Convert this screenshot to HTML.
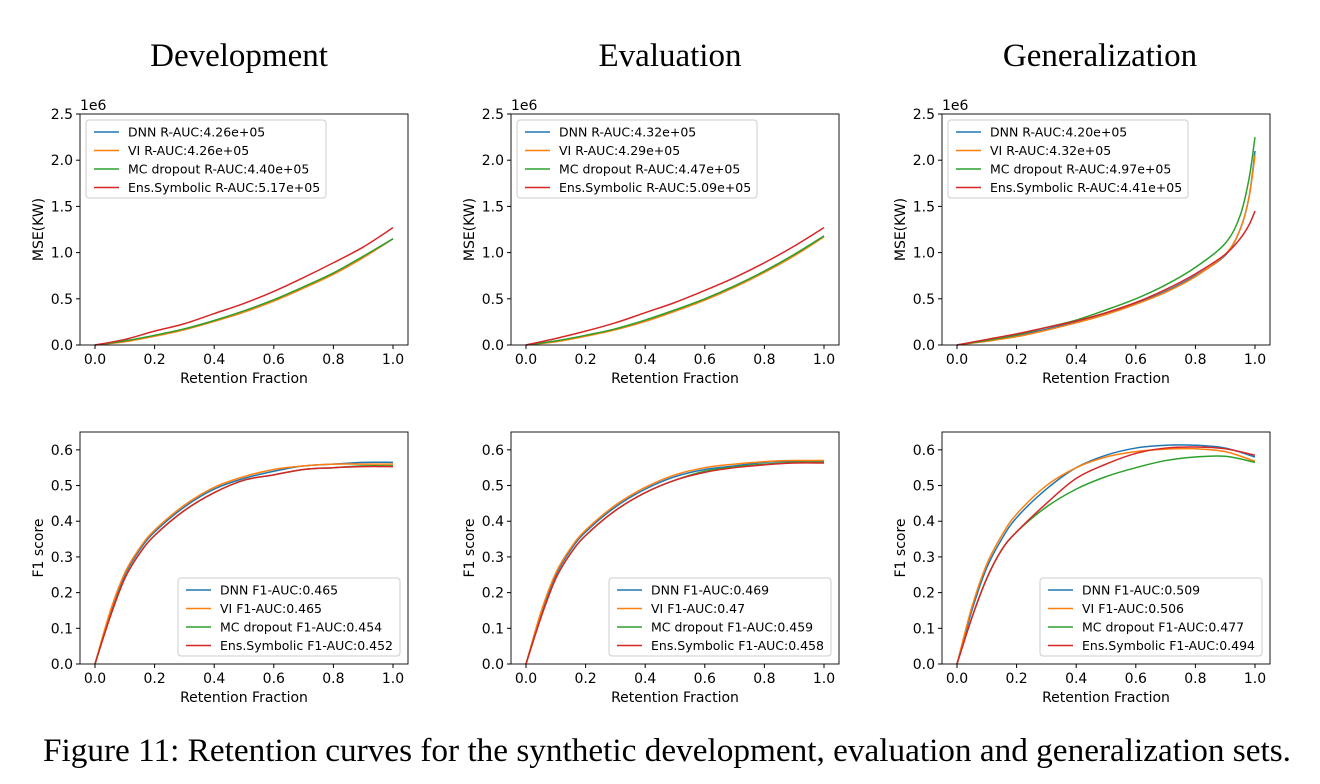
<!DOCTYPE html>
<html><head><meta charset="utf-8"><style>
body{margin:0;background:#fff;width:1320px;height:784px;overflow:hidden}
svg{display:block}
</style></head><body>
<svg id="fig" width="1320" height="784" xmlns="http://www.w3.org/2000/svg">
<text x="239" y="66" font-family="Liberation Serif, serif" font-size="33" text-anchor="middle">Development</text>
<text x="670" y="66" font-family="Liberation Serif, serif" font-size="33" text-anchor="middle">Evaluation</text>
<text x="1100" y="66" font-family="Liberation Serif, serif" font-size="33" text-anchor="middle">Generalization</text>
<text x="667" y="761" font-family="Liberation Serif, serif" font-size="33" text-anchor="middle" textLength="1248" lengthAdjust="spacingAndGlyphs">Figure 11: Retention curves for the synthetic development, evaluation and generalization sets.</text>
</svg>
<script>
const colors=['#1f77b4','#ff7f0e','#2ca02c','#d62728'];
const seriesNames=['DNN','VI','MC dropout','Ens.Symbolic'];
const xTicks=[0,0.2,0.4,0.6,0.8,1.0];
const mseTicks=[0,0.5,1.0,1.5,2.0,2.5];
const f1Ticks=[0,0.1,0.2,0.3,0.4,0.5,0.6];
const mseLabels=[['4.26e+05','4.26e+05','4.40e+05','5.17e+05'],['4.32e+05','4.29e+05','4.47e+05','5.09e+05'],['4.20e+05','4.32e+05','4.97e+05','4.41e+05']];
const f1Labels=[['0.465','0.465','0.454','0.452'],['0.469','0.47','0.459','0.458'],['0.509','0.506','0.477','0.494']];
const xMse=[0,0.1,0.2,0.3,0.4,0.5,0.6,0.7,0.8,0.9,1.0];
const xMseGen=[0,0.1,0.2,0.3,0.4,0.5,0.6,0.7,0.8,0.9,0.95,0.98,1.0];
const xF1=[0,0.05,0.1,0.15,0.2,0.3,0.4,0.5,0.6,0.7,0.8,0.9,1.0];
const mseDev=[[0,.04,.1,.17,.26,.36,.48,.62,.77,.95,1.15],[0,.035,.095,.165,.255,.355,.475,.615,.765,.945,1.15],[0,.045,.105,.175,.265,.37,.49,.63,.78,.96,1.15],[0,.06,.15,.23,.34,.45,.58,.73,.89,1.06,1.27]];
const mseEval=[[0,.04,.1,.17,.26,.37,.49,.63,.79,.97,1.18],[0,.035,.095,.165,.255,.365,.485,.625,.785,.965,1.17],[0,.045,.105,.175,.27,.38,.5,.64,.8,.98,1.18],[0,.07,.15,.24,.35,.46,.59,.73,.89,1.07,1.27]];
const mseGen=[[0,.05,.1,.17,.25,.34,.45,.58,.75,.97,1.25,1.6,2.1],[0,.04,.09,.16,.24,.33,.44,.57,.74,.98,1.25,1.6,2.05],[0,.05,.11,.19,.27,.38,.5,.65,.84,1.1,1.4,1.8,2.25],[0,.06,.12,.19,.26,.35,.46,.6,.77,.98,1.15,1.3,1.45]];
const f1Dev=[[0,.14,.25,.32,.37,.44,.49,.52,.54,.555,.56,.565,.565],[0,.145,.255,.325,.375,.445,.495,.525,.545,.555,.56,.56,.56],[0,.13,.24,.31,.36,.43,.48,.515,.53,.545,.55,.555,.555],[0,.13,.24,.31,.36,.43,.48,.515,.53,.545,.55,.553,.553]];
const f1Eval=[[0,.14,.25,.32,.37,.44,.49,.525,.545,.555,.565,.568,.568],[0,.145,.255,.325,.375,.445,.495,.53,.55,.56,.567,.57,.57],[0,.13,.24,.31,.36,.43,.48,.515,.54,.552,.56,.565,.565],[0,.13,.24,.31,.36,.43,.48,.515,.537,.55,.558,.563,.563]];
const f1Gen=[[0,.15,.27,.35,.41,.49,.55,.585,.605,.613,.613,.605,.58],[0,.16,.28,.36,.42,.5,.55,.58,.595,.602,.603,.595,.568],[0,.13,.24,.32,.37,.44,.49,.525,.55,.57,.58,.582,.565],[0,.13,.24,.32,.37,.45,.52,.56,.59,.605,.608,.603,.585]];

const svg=document.getElementById('fig');
const NS='http://www.w3.org/2000/svg';
function el(tag,attrs,parent){const e=document.createElementNS(NS,tag);for(const k in attrs)e.setAttribute(k,attrs[k]);(parent||svg).appendChild(e);return e;}
const FONT='DejaVu Sans, Liberation Sans, sans-serif';
function panel(bx,top,bottom,ymax,yTicks,ylabel,xs,data,labels,kind,legendPos,name){
  const g=el('g',{});
  
  
  const x0=bx+15,x1=bx+313,right=bx+328;
  const sx=v=>x0+(x1-x0)*v;
  const sy=v=>bottom-(bottom-top)*v/ymax;
  data.forEach((ys,i)=>{
    const pts=xs.map((x,j)=>[sx(x),sy(ys[j])]);
    let d='M'+pts[0][0]+','+pts[0][1];
    for(let j=0;j<pts.length-1;j++){
      const p0=pts[Math.max(0,j-1)],p1=pts[j],p2=pts[j+1],p3=pts[Math.min(pts.length-1,j+2)];
      const c1=[p1[0]+(p2[0]-p0[0])/6,p1[1]+(p2[1]-p0[1])/6];
      const c2=[p2[0]-(p3[0]-p1[0])/6,p2[1]-(p3[1]-p1[1])/6];
      d+=` C${c1[0]},${c1[1]} ${c2[0]},${c2[1]} ${p2[0]},${p2[1]}`;
    }
    const p=el('path',{d,fill:'none',stroke:colors[i],'stroke-width':1.5},g);
    
    
  });
  const box=el('rect',{x:bx,y:top,width:right-bx,height:bottom-top,fill:'none',stroke:'#000','stroke-width':0.9},g);
  
  
  xTicks.forEach(t=>{
    el('line',{x1:sx(t),x2:sx(t),y1:bottom,y2:bottom+4,stroke:'#000'},g);
    const tx=el('text',{x:sx(t),y:bottom+19,'font-family':FONT,'font-size':14,'text-anchor':'middle'},g);
    tx.textContent=t.toFixed(1);
    
    
  });
  yTicks.forEach(t=>{
    el('line',{x1:bx-4,x2:bx,y1:sy(t),y2:sy(t),stroke:'#000'},g);
    const tx=el('text',{x:bx-7,y:sy(t)+5,'font-family':FONT,'font-size':14,'text-anchor':'end'},g);
    tx.textContent=t.toFixed(1);
    
    
  });
  const xl=el('text',{x:(bx+right)/2,y:bottom+38,'font-family':FONT,'font-size':14,'text-anchor':'middle'},g);
  xl.textContent='Retention Fraction';
  
  
  const yl=el('text',{x:0,y:0,'font-family':FONT,'font-size':14,'text-anchor':'middle',transform:`translate(${bx-37},${(top+bottom)/2}) rotate(-90)`},g);
  yl.textContent=ylabel;
  
  
  if(kind==='mse'){
    const off=el('text',{x:bx,y:top-4,'font-family':FONT,'font-size':14},g);
    off.textContent='1e6';
    
    
  }
  const [lx,ly,lw]=legendPos;
  const lg=el('g',{},g);
  
  
  el('rect',{x:lx,y:ly,width:lw,height:78,rx:3,fill:'#fff',stroke:'#ccc'},lg);
  labels.forEach((v,i)=>{
    const yy=ly+12+i*18.5;
    el('line',{x1:lx+8,x2:lx+33,y1:yy,y2:yy,stroke:colors[i],'stroke-width':1.5},lg);
    const t=el('text',{x:lx+42,y:yy+4.5,'font-family':FONT,'font-size':12.5},lg);
    t.textContent=seriesNames[i]+(kind==='mse'?' R-AUC:':' F1-AUC:')+v;
    
    
  });
}
const cols=[80,511,942];
const mseData=[mseDev,mseEval,mseGen];
const f1Data=[f1Dev,f1Eval,f1Gen];
const names=['development','evaluation','generalization'];
cols.forEach((bx,c)=>{
  panel(bx,114,345,2.5,mseTicks,'MSE(KW)',c===2?xMseGen:xMse,mseData[c],mseLabels[c],'mse',[bx+6,120,240],'mse-panel-'+names[c]);
  panel(bx,432,664,0.65,f1Ticks,'F1 score',xF1,f1Data[c],f1Labels[c],'f1',[bx+98,578,222],'f1-panel-'+names[c]);
});
</script>
</body></html>
